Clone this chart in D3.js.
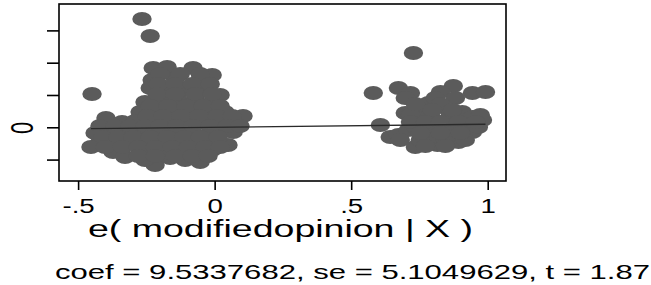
<!DOCTYPE html>
<html>
<head>
<meta charset="utf-8">
<script src="https://cdn.jsdelivr.net/npm/d3@7"></script>
<style>
  body { margin: 0; background: #fff; }
  text { font-family: "Liberation Sans", Arial, sans-serif; fill: #000; }
</style>
</head>
<body>
<div id="chart"></div>
<script>
const SVG_WIDTH = 651;
const SVG_HEIGHT = 285;
const MARGIN = { TOP: 4, RIGHT: 145, LEFT: 59, BOTTOM: 104 }; // plot box 59..506, 4..181

// residuals e( modifiedopinion | X )
const xResid = [
  -0.266, -0.236, -0.449, -0.218,
  -0.225, -0.174, -0.079, -0.009,
  -0.229, -0.145, -0.053,
  -0.236, -0.181, -0.108, -0.035, 0.020,
  -0.255, -0.200, -0.134, -0.071, -0.009,
  -0.273, -0.218, -0.156, -0.090, -0.024, 0.038, 0.104,
  -0.398, -0.339, -0.291, -0.236, -0.170, -0.108, -0.053, 0.013, 0.075,
  -0.438, -0.383, -0.328, -0.273, -0.207, -0.145, -0.082, -0.016, 0.038, 0.068,
  -0.420, -0.365, -0.310, -0.244, -0.181, -0.119, -0.060, 0.002, 0.049,
  -0.453, -0.372, -0.328, -0.273, -0.200, -0.134, -0.071, -0.009,
  -0.255, -0.163, -0.108, -0.053,
  -0.200, -0.126, -0.053,
  -0.207, -0.145, -0.082, -0.016,
  -0.211, -0.145, -0.071, -0.009,
  -0.236, -0.170, -0.104, -0.042, 0.020,
  -0.247, -0.189, -0.123, -0.057, 0.009, 0.064,
  -0.420, -0.365, -0.310, -0.255, -0.200, -0.138, -0.079, -0.016, 0.046, 0.093,
  -0.409, -0.354, -0.299, -0.236, -0.174, -0.112, -0.053, 0.013,
  -0.401, -0.339, -0.280, -0.218, -0.156, -0.097, -0.035, 0.020,
  -0.280, -0.218, -0.145, -0.082, -0.024,
  // second group
  0.728, 0.581, 0.673, 0.717, 0.874, 0.827, 0.944, 0.992,
  0.783, 0.834, 0.698, 0.907, 0.981, 0.607, 0.746,
  0.643, 0.673, 0.735, 0.816, 0.893, 0.944,
  0.797, 0.856, 0.918, 0.772, 0.845, 0.709, 0.944, 0.753, 0.882, 0.790,
  0.698, 0.808, 0.882,
  0.717, 0.790, 0.863, 0.973,
  0.735, 0.808, 0.882, 0.966,
  0.680, 0.753, 0.845, 0.918,
  0.772, 0.845,
  0.735, 0.827,
  0.797, 0.871,
  0.717, 0.772, 0.827, 0.893, 0.955,
  0.753, 0.827, 0.900
];
// residuals e( y | X )
const yResid = [
  335.3, 282.7, 103.1, -116.7,
  183.6, 186.7, 183.6, 161.9,
  146.4, 152.6, 146.4,
  121.7, 121.7, 115.5, 115.5, 100.0,
  78.3, 84.5, 84.5, 84.5, 78.3,
  47.4, 47.4, 47.4, 47.4, 47.4, 47.4, 35.0,
  28.8, 16.4, 19.5, 22.6, 16.4, 19.5, 22.6, 19.5, 13.3,
  -17.6, -14.6, -17.6, -8.4, -14.6, -17.6, -11.5, -14.6, -8.4, -14.6,
  -45.5, -45.5, -42.4, -45.5, -45.5, -39.3, -45.5, -42.4, -54.8,
  -61.0, -76.5, -92.0, -76.5, -76.5, -76.5, -76.5, -70.3,
  -101.2, -95.0, -101.2, -107.4,
  165.0, 165.0, 165.0,
  134.1, 134.1, 134.1, 134.1,
  103.1, 103.1, 103.1, 103.1,
  65.9, 65.9, 65.9, 65.9, 65.9,
  35.0, 35.0, 35.0, 35.0, 35.0, 35.0,
  4.0, 4.0, 4.0, 4.0, 4.0, 4.0, 4.0, 4.0, 4.0, 4.0,
  -30.0, -30.0, -30.0, -30.0, -30.0, -30.0, -30.0, -30.0,
  -61.0, -61.0, -61.0, -61.0, -61.0, -61.0, -61.0, -61.0,
  -88.9, -88.9, -88.9, -88.9, -88.9,
  // second group
  230.0, 106.2, 121.7, 106.2, 127.9, 109.3, 106.2, 109.3,
  75.2, 62.8, 44.3, 47.4, 22.6, 7.1, 22.6,
  -30.0, -23.8, -61.0, -54.8, -45.5, -14.6,
  22.6, 22.6, 13.3, -14.6, -17.6, -8.4, 31.9, 53.6, -2.2, -33.1,
  90.7, 90.7, 90.7,
  38.1, 38.1, 38.1, 38.1,
  0.9, 0.9, 0.9, 0.9,
  -39.3, -39.3, -39.3, -39.3,
  -57.9, -57.9,
  72.1, 72.1,
  53.6, 53.6,
  16.4, 16.4, 16.4, 16.4, 16.4,
  -17.6, -17.6, -17.6
];

const COEF = 9.5337682;
const xTicks = [-0.5, 0, 0.5, 1];
const xTickLabels = ["-.5", "0", ".5", "1"];
const yTicks = [-100, 0, 100, 200, 300];
const yTickLabels = ["", "0", "", "", ""];
const xTitle = "e( modifiedopinion | X )";
const note = "coef = 9.5337682, se = 5.1049629, t = 1.87";

const svg = d3.select("#chart").append("svg")
  .attr("width", SVG_WIDTH)
  .attr("height", SVG_HEIGHT);

const plotW = SVG_WIDTH - MARGIN.LEFT - MARGIN.RIGHT;
const plotH = SVG_HEIGHT - MARGIN.TOP - MARGIN.BOTTOM;

const xScale = d3.scaleLinear().domain([-0.570, 1.067]).range([MARGIN.LEFT, MARGIN.LEFT + plotW]);
const yScale = d3.scaleLinear().domain([-166.3, 381.7]).range([MARGIN.TOP + plotH, MARGIN.TOP]);

// points
const pts = xResid.map((x, i) => ({ x: x, y: yResid[i] }));
svg.append("g").selectAll("ellipse")
  .data(pts)
  .enter()
  .append("ellipse")
  .attr("cx", d => xScale(d.x))
  .attr("cy", d => yScale(d.y))
  .attr("rx", 9.7)
  .attr("ry", 7)
  .attr("fill", "#5b5b5b");

// fitted line
const xMin = d3.min(xResid), xMax = d3.max(xResid);
svg.append("line")
  .attr("x1", xScale(xMin)).attr("y1", yScale(COEF * xMin))
  .attr("x2", xScale(xMax)).attr("y2", yScale(COEF * xMax))
  .attr("stroke", "#2a2a2a")
  .attr("stroke-width", 1.3);

// frame
svg.append("rect")
  .attr("x", MARGIN.LEFT).attr("y", MARGIN.TOP)
  .attr("width", plotW).attr("height", plotH)
  .attr("fill", "none")
  .attr("stroke", "#000")
  .attr("stroke-width", 1.6);

// x axis
const xAxis = svg.append("g")
  .attr("transform", `translate(0,${MARGIN.TOP + plotH})`)
  .call(d3.axisBottom(xScale).tickValues(xTicks).tickSize(9).tickFormat(""));
xAxis.select(".domain").remove();
xAxis.selectAll(".tick line").attr("stroke", "#000").attr("stroke-width", 1.6);
xAxis.selectAll(".tick").append("text")
  .attr("transform", "translate(0,32) scale(1.38,1)")
  .attr("text-anchor", "middle")
  .style("font-size", "20px")
  .text((d, i) => xTickLabels[i]);

// y axis
const yAxis = svg.append("g")
  .attr("transform", `translate(${MARGIN.LEFT},0)`)
  .call(d3.axisLeft(yScale).tickValues(yTicks).tickSize(12).tickFormat(""));
yAxis.select(".domain").remove();
yAxis.selectAll(".tick line").attr("stroke", "#000").attr("stroke-width", 1.6);
yAxis.selectAll(".tick").append("text")
  .attr("transform", "translate(-37.5,0) scale(1.45,1) rotate(-90)")
  .attr("text-anchor", "middle")
  .attr("dy", "0.36em")
  .style("font-size", "22px")
  .text((d, i) => yTickLabels[i]);

// titles
svg.append("text")
  .attr("x", 88).attr("y", 237)
  .attr("textLength", 385)
  .attr("lengthAdjust", "spacingAndGlyphs")
  .style("font-size", "23px")
  .text(xTitle);

svg.append("text")
  .attr("x", 55).attr("y", 279)
  .attr("textLength", 595)
  .attr("lengthAdjust", "spacingAndGlyphs")
  .style("font-size", "21px")
  .text(note);
</script>
</body>
</html>
